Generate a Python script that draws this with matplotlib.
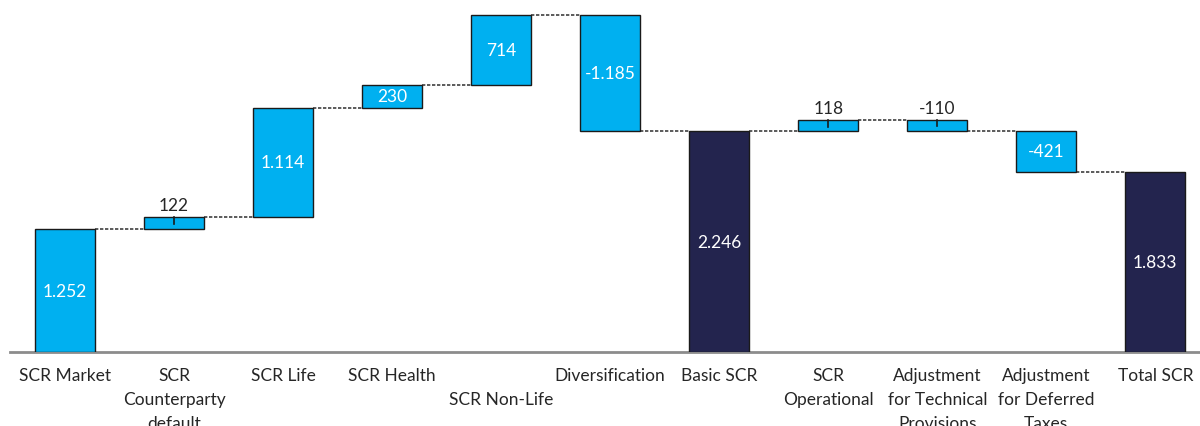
import matplotlib
matplotlib.use("Agg")
import matplotlib.pyplot as plt

plt.rcParams['font.family'] = ['Lato', 'DejaVu Sans']

categories = ["SCR Market", "SCR\nCounterparty\ndefault", "SCR Life", "SCR Health",
              "\nSCR Non-Life", "Diversification", "Basic SCR", "SCR\nOperational",
              "Adjustment\nfor Technical\nProvisions", "Adjustment\nfor Deferred\nTaxes", "Total SCR"]
values = [1252, 122, 1114, 230, 714, -1185, 2246, 118, -110, -421, 1833]
is_total = [False, False, False, False, False, False, True, False, False, False, True]
label_outside = [False, True, False, False, False, False, False, True, True, False, False]

light = "#00B0F0"
dark = "#23244E"

def fmt(v):
    s = f"{abs(v):,}".replace(",", ".")
    return ("-" if v < 0 else "") + s

W, H = 1200, 427
fig = plt.figure(figsize=(W/100, H/100), dpi=100)
ax = fig.add_axes([10/W, 74/H, 1190/W, 353/H])
ax.set_xlim(-0.505, 10.41)
ax.set_ylim(0, 3595)
bw = 0.55

running = 0
prev_level = None
for i, (v, tot) in enumerate(zip(values, is_total)):
    if tot:
        bottom, top = 0, v
        running = v
        color = dark
    else:
        bottom = running
        top = running + v
        running = top
        color = light
    lo, hi = min(bottom, top), max(bottom, top)
    ax.bar(i, hi - lo, bottom=lo, width=bw, color=color, edgecolor="#1a1a1a", linewidth=1.0, zorder=3)
    if prev_level is not None:
        ax.plot([i - 1 + bw/2, i - bw/2], [prev_level, prev_level], color="#404040",
                linestyle=(0, (2, 1)), linewidth=1.2, zorder=2)
    prev_level = running
    if label_outside[i]:
        ax.plot([i, i], [hi, hi - (hi - lo) * 0.6], color="#1a1a1a", linewidth=1.2, zorder=4)
        ax.text(i, hi + 40, fmt(v), ha="center", va="bottom", fontsize=12.5, color="#262626")
    else:
        ax.text(i, (lo + hi) / 2, fmt(v), ha="center", va="center", fontsize=12.5, color="white", zorder=5)

for s in ["top", "right", "left"]:
    ax.spines[s].set_visible(False)
ax.spines["bottom"].set_color("#8c8c8c")
ax.spines["bottom"].set_linewidth(2)
ax.set_yticks([])
ax.set_xticks(range(len(categories)))
ax.set_xticklabels(categories, fontsize=12.5, color="#262626", linespacing=1.6, va="top")
ax.tick_params(axis="x", length=0, pad=11)

fig.savefig("out.png", dpi=100)
